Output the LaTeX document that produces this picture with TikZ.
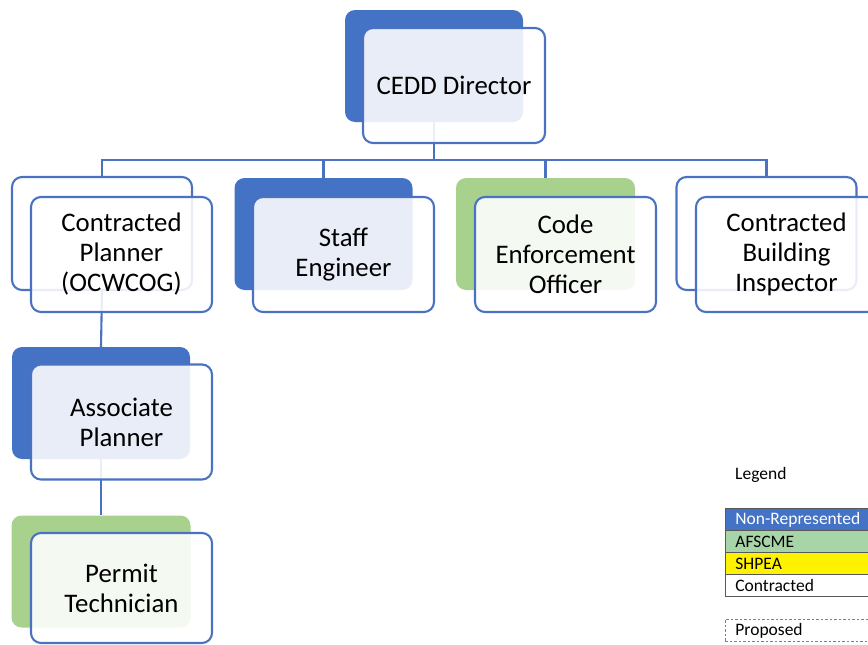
\documentclass[tikz,border=0pt]{standalone}
\usepackage{fontspec}
\setmainfont{Carlito}
\definecolor{nrblue}{HTML}{4472C4}
\definecolor{lineblue}{HTML}{4A72C0}
\definecolor{afgreen}{HTML}{A9D18E}
\definecolor{leggreen}{HTML}{A8D5A8}
\definecolor{leggray}{HTML}{595959}
\tikzset{
  back/.style={rectangle, rounded corners=10pt, minimum width=#1, inner sep=0pt},
  backnr/.style={back=178pt, minimum height=112pt, fill=nrblue},
  backaf/.style={back=179pt, minimum height=112pt, fill=afgreen},
  backct/.style={back=180pt, minimum height=113pt, fill=white, draw=lineblue, line width=2.1pt},
  front/.style={rectangle, rounded corners=10pt, minimum width=181pt, minimum height=115pt,
    inner sep=0pt, draw=lineblue, line width=2.1pt, fill=white, fill opacity=0.88, text opacity=1,
    align=center, font=\fontsize{26.8}{30}\selectfont, text=black},
  conn/.style={draw=lineblue, line width=2.1pt},
  legrow/.style={rectangle, anchor=north west, draw=leggray, line width=0.8pt, text width=135pt,
    inner xsep=10pt, inner ysep=0pt, minimum height=22pt, align=left,
    font=\fontsize{17.5}{20}\selectfont},
}
\begin{document}
\begin{tikzpicture}[x=1pt,y=-1pt]
\useasboundingbox (0,0) rectangle (868,645);
% back boxes
\node[backnr] (dirb) at (434,66) {};
\node[backct] (cpb) at (102,233.5) {};
\node[backnr] (seb) at (323.5,234) {};
\node[backaf] (ceb) at (545.5,234) {};
\node[backct] (bib) at (766.5,233.5) {};
\node[backnr] (apb) at (101,403) {};
\node[backaf] (ptb) at (101,571.5) {};
% connectors
\coordinate (bus) at (0,160);
\draw[conn] (dirb.south) -- (dirb.south |- bus);
\draw[conn] (cpb.north) |- (dirb.south |- bus);
\draw[conn] (seb.north) |- (dirb.south |- bus);
\draw[conn] (ceb.north) |- (dirb.south |- bus);
\draw[conn] (bib.north) |- (dirb.south |- bus);
\draw[conn] (cpb.south) -- (apb.north);
\draw[conn] (apb.south) -- (ptb.north);
% front boxes
\node[front, minimum width=182pt] (dir) at (454,85.5) {CEDD Director};
\node[front] (cp) at (121.5,254.5) {Contracted\\Planner\\(OCWCOG)};
\node[front] (se) at (343.5,254.5) {Staff\\Engineer};
\node[front] (ce) at (565.5,254.5) {Code\\Enforcement\\Officer};
\node[front] (bi) at (786.5,254.5) {Contracted\\Building\\Inspector};
\node[front] (ap) at (121.5,422) {Associate\\Planner};
\node[front, minimum height=110pt] (pt) at (121.5,588) {Permit\\Technician};
% legend
\node[anchor=west, font=\fontsize{17.5}{20}\selectfont, inner sep=0pt] (leg) at (735,475) {Legend};
\node[legrow, fill=nrblue, text=white] (l1) at (725,508) {Non-Represented};
\node[legrow, fill=leggreen] (l2) at (725,530) {AFSCME};
\node[legrow, fill=yellow] (l3) at (725,552) {SHPEA};
\node[legrow, fill=white] (l4) at (725,574) {Contracted};
\node[legrow, draw=gray, dash pattern=on 2.5pt off 2pt] (l5) at (725,619) {Proposed};
\end{tikzpicture}
\end{document}
